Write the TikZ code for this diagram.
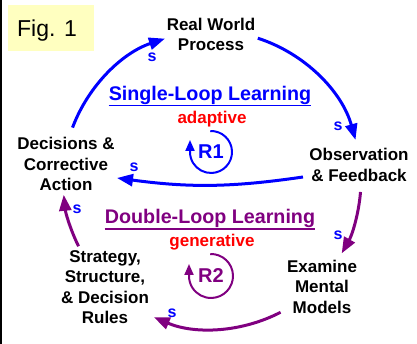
\documentclass[tikz,border=0pt]{standalone}
\usepackage{fontspec}
\setmainfont{Liberation Sans}
\usetikzlibrary{arrows.meta}
\definecolor{loopblue}{RGB}{0,0,255}
\definecolor{looppurple}{RGB}{128,0,128}
\definecolor{tagred}{RGB}{255,0,0}
\definecolor{figyellow}{RGB}{255,255,192}
\begin{document}
\begin{tikzpicture}[x=1pt,y=1pt,
  stage/.style={anchor=north,inner sep=0pt,align=center,
    font=\fontsize{17}{20.5}\selectfont\bfseries},
  heading/.style={anchor=base,inner sep=0pt,font=\fontsize{19.7}{22}\selectfont\bfseries},
  tag/.style={anchor=base,inner sep=0pt,text=tagred,font=\fontsize{17}{20}\selectfont\bfseries},
  loopname/.style={inner sep=0pt,font=\fontsize{20}{22}\selectfont\bfseries},
  sign/.style={inner sep=0pt,text=loopblue,font=\fontsize{16}{18}\selectfont\bfseries},
  link/.style={line width=3pt,-{Triangle[length=16pt,width=12pt]}},
  looparrow/.style={line width=2pt,-{Triangle[length=11pt,width=9pt]}}]
\useasboundingbox (0,0) rectangle (417,344);
% left frame edge
\fill[black] (0,0) rectangle (1.6,344);
% figure tag
\node[fill=figyellow,minimum width=86pt,minimum height=46pt,inner sep=0pt] (figbox) at (51,316) {};
\node[anchor=base,inner sep=0pt,font=\fontsize{23}{25}\selectfont] (figlabel) at (47,307) {Fig. 1};
% stages of the learning cycle
\coordinate (C) at (212,164);
\node[stage] (world) at (211,326.5) {Real World\\Process};
\node[stage] (obs) at (359,196) {Observation\\\& Feedback};
\node[stage] (mental) at (322,84.5) {Examine\\Mental\\Models};
\node[stage] (rules) at (105,94) {Strategy,\\Structure,\\\& Decision\\Rules};
\node[stage] (decide) at (66,207) {Decisions \&\\Corrective\\Action};
% loop titles
\node[heading,text=loopblue] (single) at (210,243.3) {Single-Loop Learning};
\draw[loopblue,line width=1.6pt] ([yshift=-5pt]single.base west) -- ([yshift=-5pt]single.base east);
\node[tag] (adaptive) at (212,220.7) {adaptive};
\node[heading,text=looppurple] (double) at (210,120) {Double-Loop Learning};
\draw[looppurple,line width=1.6pt] ([yshift=-5pt]double.base west) -- ([yshift=-5pt]double.base east);
\node[tag] (generative) at (212,97.3) {generative};
% reinforcing loop markers
\node[loopname,text=loopblue] (r1) at (211,192) {R1};
\coordinate (r1c) at (211,192);
\draw[looparrow,loopblue] (r1c) ++(92:21) arc[start angle=92,end angle=-180,radius=21] -- ++(0,12);
\node[loopname,text=looppurple] (r2) at (211,68) {R2};
\coordinate (r2c) at (211,68);
\draw[looparrow,looppurple] (r2c) ++(92:22) arc[start angle=92,end angle=-180,radius=22] -- ++(0,12);
% single loop links
\draw[link,loopblue] (C) ++(159.4:149) coordinate (a1) arc[start angle=159.4,end angle=108.4,radius=149];
\draw[link,loopblue] (C) ++(72.1:149) coordinate (a2) arc[start angle=72.1,end angle=15.6,radius=149];
\coordinate (a3s) at (303,167);
\coordinate (a3e) at (117,166);
\draw[link,loopblue] (a3s) to[bend left=8] (a3e);
% double loop links
\draw[link,looppurple] (C) ++(-4.6:149) coordinate (a4) arc[start angle=-4.6,end angle=-29.5,radius=149];
\draw[link,looppurple] (C) ++(-62.6:149) coordinate (a5) arc[start angle=-62.6,end angle=-113,radius=149];
\draw[link,looppurple] (C) ++(206.4:149) coordinate (a6) arc[start angle=206.4,end angle=185.7,radius=149];
% polarity signs
\node[sign] (s1) at (152,287) {s};
\node[sign] (s2) at (338,218) {s};
\node[sign] (s3) at (134,177) {s};
\node[sign] (s4) at (338,109) {s};
\node[sign] (s5) at (172,31) {s};
\node[sign] (s6) at (77,135) {s};
\end{tikzpicture}
\end{document}
